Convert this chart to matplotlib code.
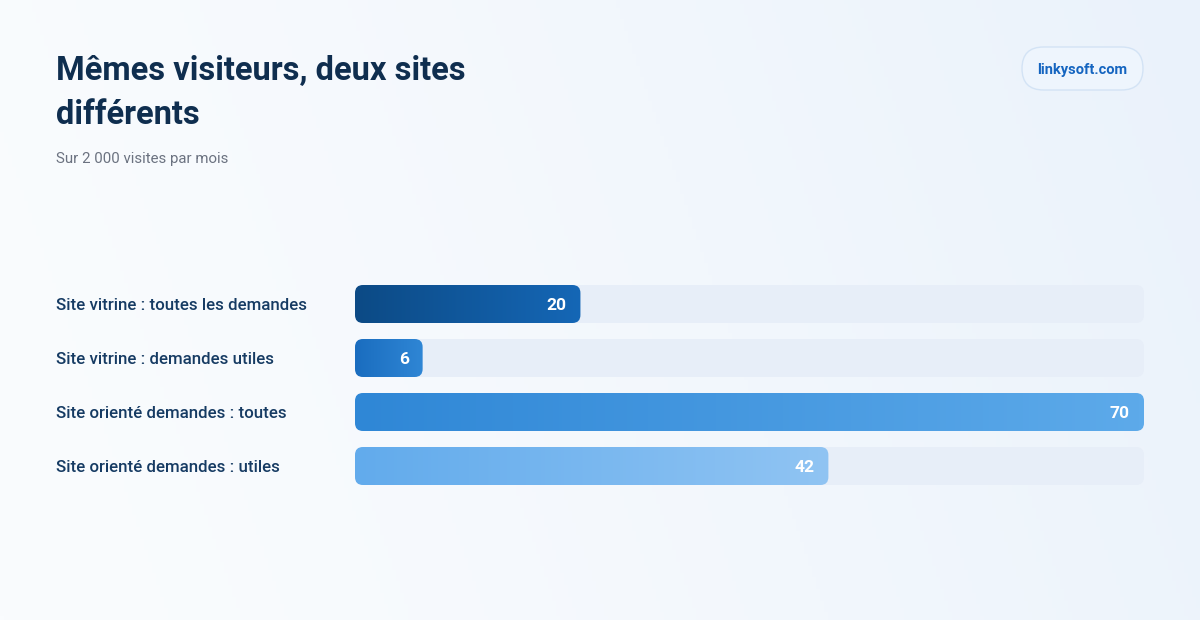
import numpy as np
import matplotlib
matplotlib.use("Agg")
import matplotlib.pyplot as plt
from matplotlib.patches import FancyBboxPatch
from matplotlib.colors import LinearSegmentedColormap
from matplotlib.transforms import blended_transform_factory

categories = [
    "Site vitrine : toutes les demandes",
    "Site vitrine : demandes utiles",
    "Site orienté demandes : toutes",
    "Site orienté demandes : utiles",
]
values = [20, 6, 70, 42]
max_value = 70
value_labels = ["20", "6", "70", "42"]
bar_gradients = [
    ("#0c4a85", "#1567b6"),
    ("#1a6dbf", "#2f86d5"),
    ("#2f87d6", "#5daaea"),
    ("#62abec", "#90c4f3"),
]
title_lines = ["Mêmes visiteurs, deux sites", "différents"]
subtitle = "Sur 2 000 visites par mois"
badge = "linkysoft.com"

W, H = 1200, 620
FONT = "Roboto"
plt.rcParams["font.family"] = [FONT, "DejaVu Sans"]

fig = plt.figure(figsize=(W / 100, H / 100), dpi=100)

# background gradient
bg = fig.add_axes([0, 0, 1, 1])
bg.set_axis_off()
gx = np.linspace(0, 1, 300)
gy = np.linspace(0, 1, 160)
XX, YY = np.meshgrid(gx, gy)
t = np.clip(0.85 * XX + 0.15 * (1 - YY), 0, 1) ** 1.3
c0 = np.array([0xfa, 0xfc, 0xfe]) / 255
c1 = np.array([0xea, 0xf2, 0xfb]) / 255
img = c0[None, None, :] * (1 - t[..., None]) + c1[None, None, :] * t[..., None]
bg.imshow(img, extent=(0, 1, 0, 1), origin="upper", aspect="auto")
bg.set_xlim(0, 1)
bg.set_ylim(0, 1)


def px(x):
    return x / W


def py(y):
    return 1 - y / H


# title & subtitle
fig.text(px(56), py(80), title_lines[0], fontsize=23.5, fontweight="bold",
         color="#0f2e4f", ha="left", va="baseline")
fig.text(px(56), py(124), title_lines[1], fontsize=23.5, fontweight="bold",
         color="#0f2e4f", ha="left", va="baseline")
fig.text(px(56), py(163), subtitle, fontsize=10.8, color="#6b7280", ha="left", va="baseline")

# badge
bx0, bx1, by0, by1 = 1022, 1143, 47, 90
badge_patch = FancyBboxPatch((px(bx0), py(by1)), px(bx1 - bx0), (by1 - by0) / H,
                             boxstyle="round,pad=0,rounding_size=%f" % px(21.5),
                             mutation_aspect=W / H,
                             transform=fig.transFigure, facecolor="#eef5fd",
                             edgecolor="#d3e3f5", linewidth=1.0)
fig.add_artist(badge_patch)
fig.text(px((bx0 + bx1) / 2), py(74), badge, fontsize=10.5, fontweight="bold",
         color="#1565c0", ha="center", va="baseline")

# bars axes
x0, x1 = 355, 1144
y_top, y_bot = 277, 493
ax = fig.add_axes([px(x0), 1 - y_bot / H, (x1 - x0) / W, (y_bot - y_top) / H])
ax.set_axis_off()
ax.set_xlim(0, max_value)
n = len(categories)
ax.set_ylim(n - 0.5, -0.5)
bar_h = 38 / 54
xu_per_px = max_value / (x1 - x0)
yu_per_px = 1 / 54
radius = 8 * xu_per_px
aspect = yu_per_px / xu_per_px

lbl_tr = blended_transform_factory(fig.transFigure, ax.transData)

for i, (cat, v, lab, (ca, cb)) in enumerate(zip(categories, values, value_labels, bar_gradients)):
    yb = i - bar_h / 2
    track = FancyBboxPatch((0, yb), max_value, bar_h,
                           boxstyle="round,pad=0,rounding_size=%f" % radius,
                           mutation_aspect=aspect, facecolor="#e7eef8",
                           edgecolor="none", zorder=1)
    ax.add_patch(track)
    bar = FancyBboxPatch((0, yb), v, bar_h,
                         boxstyle="round,pad=0,rounding_size=%f" % radius,
                         mutation_aspect=aspect, facecolor="none",
                         edgecolor="none", zorder=2)
    ax.add_patch(bar)
    cmap = LinearSegmentedColormap.from_list("g%d" % i, [ca, cb])
    grad = np.linspace(0, 1, 256)[None, :]
    im = ax.imshow(grad, cmap=cmap, extent=(0, v, yb + bar_h, yb), aspect="auto",
                   zorder=2, interpolation="bilinear")
    im.set_clip_path(bar)
    ax.annotate(lab, xy=(v, i), xytext=(-14 * 0.72, 0), textcoords="offset points",
                ha="right", va="center_baseline", fontsize=12.5, fontweight="bold",
                color="white", zorder=3)
    ax.text(px(56), i, cat, transform=lbl_tr, ha="left", va="center_baseline",
            fontsize=12.2, fontweight="medium", color="#163b63")

ax.set_xlim(0, max_value)
ax.set_ylim(n - 0.5, -0.5)

fig.savefig("out.png", dpi=100)
